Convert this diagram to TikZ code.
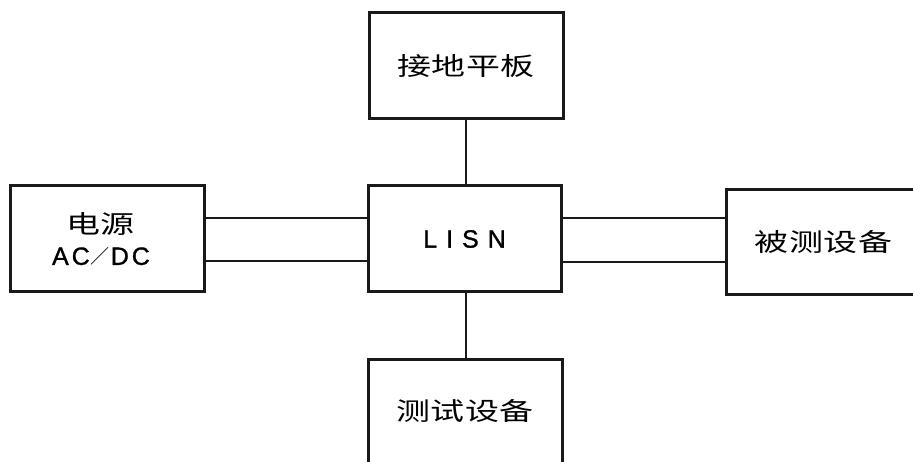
\documentclass[tikz,border=0pt]{standalone}
\usepackage{fontspec}
\setmainfont[FakeBold=1.2]{Liberation Sans}
\newfontfamily\cjk[FakeStretch=1.36]{Noto Sans CJK SC}
\newfontfamily\cjkn{Noto Sans CJK SC}
\newcommand{\mycg}{\hspace{0.5pt}}
\newcommand{\mylg}{\hspace{3pt}}
\newcommand{\myslash}{\hspace{1pt}\raisebox{1.5pt}{\fontsize{19}{19}\selectfont\cjkn ／}\hspace{1pt}}
\begin{document}
\begin{tikzpicture}[x=1pt,y=-1pt,
  blk/.style={draw=black!90,line width=3pt,fill=white,inner sep=0pt,
    minimum width=194pt,minimum height=106pt,align=center,
    font=\fontsize{25}{33}\selectfont},
  wire/.style={draw=black!90,line width=2.6pt}]
\useasboundingbox (0,0) rectangle (913,462);
\clip (0,0) rectangle (913,462);
\fill[white] (0,0) rectangle (913,462);
\node[blk] (gnd) at (466,66) {\cjk 接\mycg 地\mycg 平\mycg 板};
\node[blk] (psu) at (107,239) {{\cjk 电源}\hspace*{13pt}\\[-2pt]A\mylg C\myslash D\mylg C\hspace*{12pt}};
\node[blk,minimum width=193pt] (lisn) at (464.5,239) {L\hspace{9pt}I\hspace{9pt}S\hspace{9pt}N};
\node[blk,minimum height=105pt] (dut) at (823.5,242.5) {\cjk 被\mycg 测\mycg 设\mycg 备};
\node[blk,minimum height=104pt] (test) at (465,411) {\cjk 测\mycg 试\mycg 设\mycg 备};
\draw[wire] (gnd.south) -- (gnd.south |- lisn.north);
\draw[wire] (lisn.south -| gnd.south) -- (test.north -| gnd.south);
\draw[wire] (psu.east |- 0,218) -- (lisn.west |- 0,218);
\draw[wire] (psu.east |- 0,261) -- (lisn.west |- 0,261);
\draw[wire] (lisn.east |- 0,218) -- (dut.west |- 0,218);
\draw[wire] (lisn.east |- 0,262) -- (dut.west |- 0,262);
\end{tikzpicture}
\end{document}
